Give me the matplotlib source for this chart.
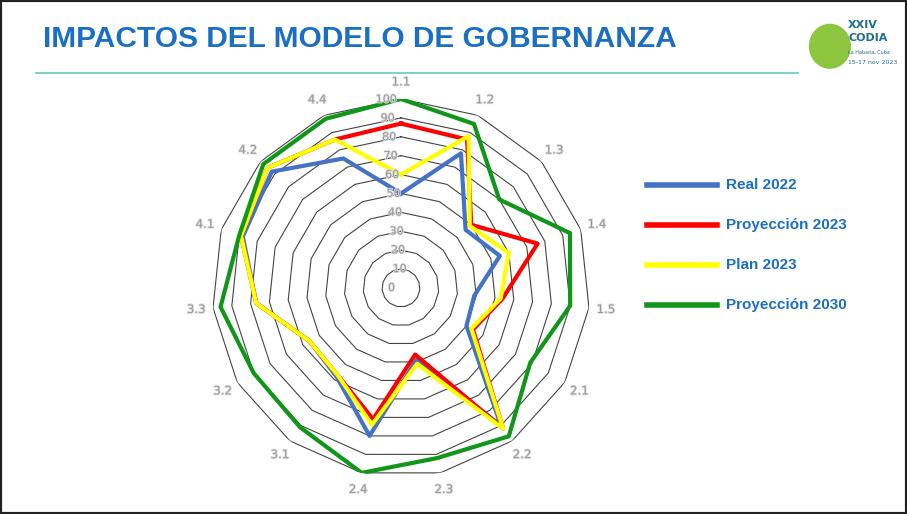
import numpy as np
import matplotlib
matplotlib.use("Agg")
import matplotlib.pyplot as plt
import matplotlib.patheffects as pe

categories = ["1.1","1.2","1.3","1.4","1.5","2.1","2.2","2.3","2.4","3.1","3.2","3.3","4.1","4.2","4.4"]
real_2022 = [50,78,46,55,39,40,90,39,80,58,56,77,88,92,75]
proy_2023 = [87,86,50,76,54,44,92,36,71,57,56,77,89,95,86]
plan_2023 = [60,88,49,60,53,43,92,41,74,57,56,77,89,95,86]
proy_2030 = [100,95,70,94,90,79,97,92,100,91,90,96,90,98,98]
series_names = ["Real 2022","Proyección 2023","Plan 2023","Proyección 2030"]
colors = ["#4472c4","#ff0000","#ffff00","#109618"]
ring_labels = [0,10,20,30,40,50,60,70,80,90,100]

fig = plt.figure(figsize=(9.07,5.14), dpi=100)
fig.patch.set_facecolor("white")
fig.add_artist(plt.Rectangle((0,0),1,1,transform=fig.transFigure,fill=False,edgecolor="#222222",lw=3))

fig.text(0.047,0.925,"IMPACTOS DEL MODELO DE GOBERNANZA",color="#1a6fc4",fontsize=21.5,fontweight="bold",va="center",family="Liberation Sans")
fig.add_artist(plt.Line2D([0.04,0.88],[0.858,0.858],transform=fig.transFigure,color="#5fcfb5",lw=1.2))
fig.add_artist(matplotlib.patches.Ellipse((0.915,0.91),0.045,0.085,transform=fig.transFigure,color="#8cc63f"))
fig.text(0.935,0.945,"XXIV",fontsize=8,color="#1f6f8b",fontweight="bold")
fig.text(0.935,0.92,"CODIA",fontsize=8,color="#1f6f8b",fontweight="bold")
fig.text(0.935,0.895,"La Habana, Cuba",fontsize=3.5,color="#1f6f8b")
fig.text(0.935,0.875,"15-17 nov 2023",fontsize=4.5,color="#1f6f8b")

ax = fig.add_axes([0.2337,0.072,0.4168,0.7354], projection="polar")
n = len(categories)
theta = np.arange(n)*2*np.pi/n
ax.set_theta_zero_location("N")
ax.set_theta_direction(-1)
ax.set_ylim(0,100)
ax.grid(False)
ax.spines["polar"].set_visible(False)
ax.set_xticks([]); ax.set_yticks([])
ax.patch.set_alpha(0)
tc = np.append(theta,theta[0])
for r in ring_labels[1:]:
    ax.plot(tc,[r]*(n+1),color="#444444",lw=0.8,zorder=1)
eff=[pe.withStroke(linewidth=1.2,foreground="#dddddd")]
for r in ring_labels:
    if r == 0:
        ax.text(np.deg2rad(-90),5,"0",ha="center",va="center",fontsize=8,color="#999999",path_effects=eff,zorder=5)
    else:
        ax.text(np.deg2rad(-4.5),r,str(r),ha="center",va="center",fontsize=8,color="#999999",path_effects=eff,zorder=5)
for t,c in zip(theta,categories):
    ax.text(t,109,c,ha="center",va="center",fontsize=8.5,color="#999999",path_effects=eff)
for vals,col in zip([real_2022,proy_2023,plan_2023,proy_2030],colors):
    v = np.append(vals,vals[0])
    ax.plot(tc,v,color=col,lw=3,zorder=3)

for i,(nm,col) in enumerate(zip(series_names,colors)):
    y = 0.64-i*0.078
    fig.add_artist(plt.Line2D([0.713,0.79],[y,y],transform=fig.transFigure,color=col,lw=4))
    fig.text(0.80,y,nm,color="#1a6fc4",fontsize=11,fontweight="bold",va="center",family="Liberation Sans")

fig.savefig("out.png",dpi=100)
